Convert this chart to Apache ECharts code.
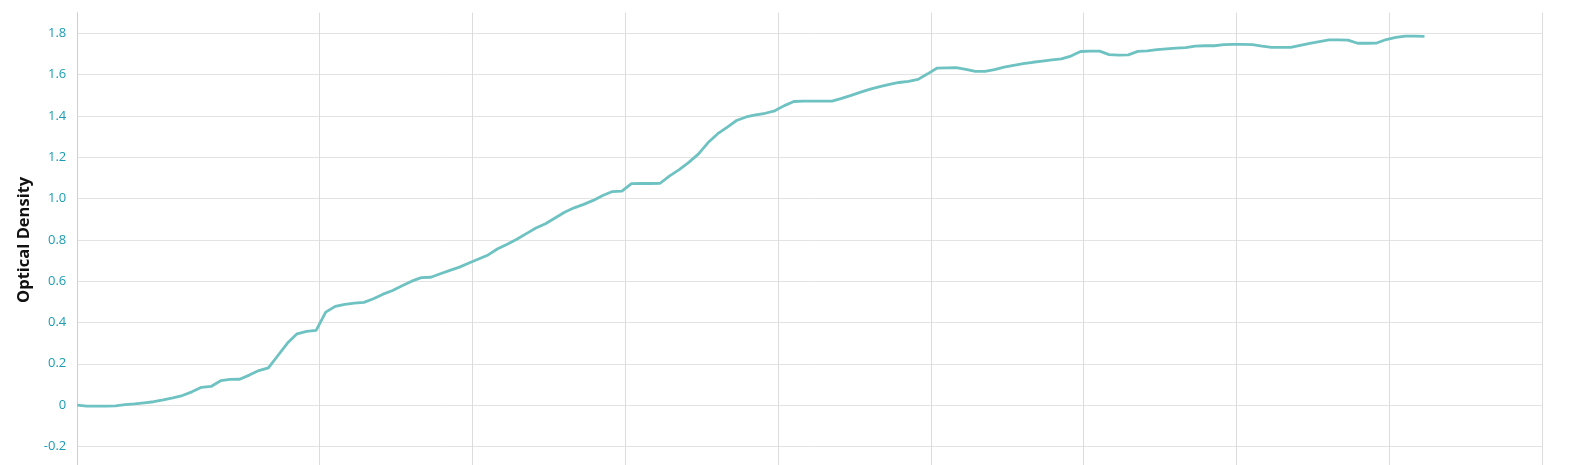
<!DOCTYPE html>
<html>
<head>
<meta charset="utf-8">
<script src="https://cdn.jsdelivr.net/npm/echarts@6/dist/echarts.min.js"></script>
<style>
html,body{margin:0;padding:0;background:#fff;overflow:hidden;}
#chart{width:1586px;height:485px;}
</style>
</head>
<body>
<div id="chart"></div>
<script>
// Optical density readings, one every 15 minutes (hours since start)
const stepHours = 0.25;
const odValues = [
  0.000,-0.005,-0.005,-0.005,-0.004,0.002,0.006,0.011,0.016,0.025,
  0.035,0.046,0.064,0.086,0.090,0.118,0.124,0.125,0.145,0.167,
  0.180,0.240,0.300,0.345,0.357,0.362,0.450,0.478,0.488,0.494,
  0.497,0.515,0.537,0.555,0.578,0.600,0.617,0.619,0.636,0.652,
  0.668,0.688,0.707,0.727,0.757,0.779,0.803,0.830,0.857,0.878,
  0.906,0.934,0.955,0.972,0.991,1.015,1.034,1.036,1.072,1.073,
  1.073,1.074,1.110,1.140,1.175,1.215,1.270,1.313,1.345,1.378,
  1.395,1.405,1.413,1.425,1.450,1.470,1.472,1.472,1.472,1.472,
  1.485,1.500,1.515,1.530,1.542,1.553,1.562,1.567,1.577,1.604,
  1.632,1.633,1.634,1.626,1.616,1.616,1.624,1.636,1.645,1.653,
  1.660,1.666,1.672,1.676,1.690,1.712,1.714,1.714,1.697,1.695,
  1.696,1.713,1.715,1.721,1.725,1.728,1.731,1.738,1.740,1.740,
  1.745,1.747,1.747,1.745,1.738,1.732,1.732,1.732,1.742,1.752,
  1.760,1.768,1.768,1.767,1.752,1.752,1.753,1.770,1.780,1.787,
  1.787,1.785
];
// x-axis extent in hours and grid-line slots (20-minute slots)
const xMaxHours = 38.3333;
const gridSlots = Array.from({length: 116}, (_, i) => String(i));
const firstGridSlot = 19;
const gridSlotEvery = 12;
// y-axis
const yMin = -0.3, yMax = 1.9, yStep = 0.2;

const seriesData = odValues.map((v, i) => [i * stepHours, v]);

const chart = echarts.init(document.getElementById('chart'), null, {renderer: 'canvas'});
chart.setOption({
  animation: false,
  backgroundColor: '#ffffff',
  grid: {left: 77.3, right: 43.7, top: 12.7, bottom: 18, containLabel: false},
  xAxis: [
    {
      type: 'value', min: 0, max: xMaxHours,
      axisLine: {show: false}, axisTick: {show: false},
      axisLabel: {show: false}, splitLine: {show: false}
    },
    {
      type: 'category', data: gridSlots, boundaryGap: false, position: 'bottom',
      axisLine: {show: false}, axisTick: {show: false}, axisLabel: {show: false},
      splitLine: {
        show: true,
        interval: (idx) => idx >= firstGridSlot && (idx - firstGridSlot) % gridSlotEvery === 0,
        lineStyle: {color: '#dcdcdc', width: 1}
      }
    }
  ],
  yAxis: {
    type: 'value', min: yMin, max: yMax, minInterval: yStep, maxInterval: yStep,
    name: 'Optical Density', nameLocation: 'middle', nameGap: 45,
    nameTextStyle: {color: '#111', fontSize: 16.5, fontWeight: 'bold', fontFamily: 'Open Sans'},
    axisLine: {show: true, lineStyle: {color: '#cfcfcf', width: 1}},
    axisTick: {show: false},
    axisLabel: {
      color: '#1a9db4', fontSize: 13, fontFamily: 'Open Sans', margin: 11,
      showMinLabel: false, showMaxLabel: false,
      formatter: (v) => Math.abs(v) < 1e-9 ? '0' : v.toFixed(1)
    },
    splitLine: {show: true, showMinLine: false, showMaxLine: false, lineStyle: {color: '#e3e3e3', width: 1}}
  },
  series: [{
    type: 'line', xAxisIndex: 0, data: seriesData,
    showSymbol: false, symbol: 'none',
    lineStyle: {color: '#6fc2c2', width: 2.8},
    itemStyle: {color: '#6fc2c2'}
  }]
});
</script>
</body>
</html>
